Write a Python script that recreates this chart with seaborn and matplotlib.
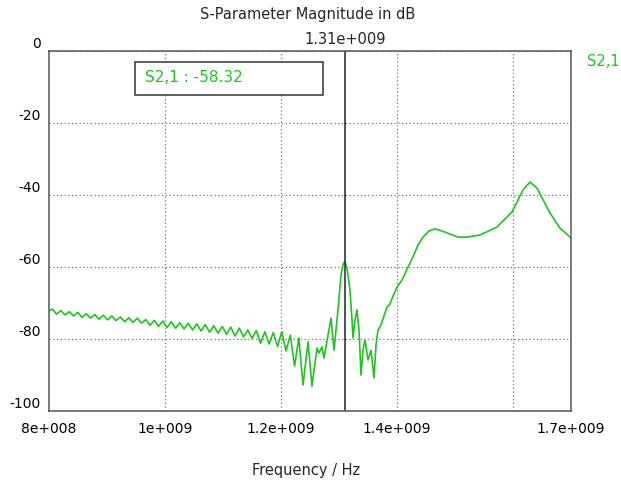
import matplotlib
matplotlib.use("Agg")
import matplotlib.pyplot as plt
import seaborn as sns
import pandas as pd
from matplotlib.patches import Rectangle

# S2,1 magnitude trace (frequency in GHz, magnitude in dB)
freq_ghz = [
    0.8000, 0.8057, 0.8130, 0.8203, 0.8277, 0.8350, 0.8423, 0.8497, 0.8570, 0.8643,
    0.8716, 0.8790, 0.8863, 0.8936, 0.9010, 0.9083, 0.9156, 0.9229, 0.9303, 0.9376,
    0.9449, 0.9522, 0.9596, 0.9669, 0.9742, 0.9816, 0.9889, 0.9962, 1.0035, 1.0109,
    1.0182, 1.0255, 1.0328, 1.0402, 1.0475, 1.0548, 1.0622, 1.0695, 1.0768, 1.0841,
    1.0915, 1.0988, 1.1061, 1.1134, 1.1208, 1.1281, 1.1354, 1.1428, 1.1501, 1.1574,
    1.1647, 1.1721, 1.1794, 1.1867, 1.1940, 1.2014, 1.2087, 1.2160, 1.2234, 1.2307,
    1.2380, 1.2466, 1.2534, 1.2621, 1.2655, 1.2707, 1.2741, 1.2862, 1.2914, 1.2983,
    1.3034, 1.3069, 1.3100, 1.3138, 1.3190, 1.3224, 1.3241, 1.3276, 1.3310, 1.3345,
    1.3379, 1.3414, 1.3448, 1.3500, 1.3552, 1.3603, 1.3638, 1.3672, 1.3724, 1.3828,
    1.3879, 1.3931, 1.4000, 1.4086, 1.4224, 1.4276, 1.4362, 1.4448, 1.4552, 1.4655,
    1.4828, 1.5052, 1.5207, 1.5431, 1.5724, 1.5983, 1.6172, 1.6293, 1.6414, 1.6638,
    1.6810, 1.7000,
]
s21_db = [
    -72.2, -71.7, -73.1, -72.1, -73.3, -72.4, -73.6, -72.6, -74.0, -73.0,
    -74.2, -73.2, -74.5, -73.4, -74.7, -73.6, -74.9, -73.9, -75.2, -74.1,
    -75.4, -74.2, -75.6, -74.6, -76.2, -74.8, -76.5, -75.0, -76.8, -75.2,
    -77.0, -75.5, -77.2, -75.6, -77.5, -75.8, -77.8, -76.0, -78.1, -76.3,
    -78.4, -76.5, -78.7, -76.7, -79.2, -77.0, -79.4, -77.5, -79.8, -77.7,
    -81.2, -78.0, -81.4, -78.2, -82.1, -78.0, -83.3, -78.9, -87.5, -79.7,
    -92.8, -80.8, -93.1, -82.5, -83.9, -82.2, -85.3, -74.2, -83.1, -71.9,
    -62.2, -59.4, -58.32, -60.3, -66.4, -74.7, -79.7, -74.7, -71.9, -77.5,
    -90.0, -83.1, -80.3, -85.8, -83.1, -90.8, -81.7, -77.5, -76.1, -71.1,
    -70.3, -68.1, -65.6, -63.6, -58.9, -57.2, -53.9, -51.7, -50.0, -49.4,
    -50.3, -51.7, -51.7, -51.1, -48.9, -44.7, -38.6, -36.4, -38.1, -45.0,
    -49.2, -51.9,
]

xtick_vals = [0.8e9, 1.0e9, 1.2e9, 1.4e9, 1.7e9]
xgrid_vals = [1.0e9, 1.2e9, 1.4e9, 1.6e9]
ytick_vals = [0, -20, -40, -60, -80, -100]

marker_freq = 1.31e9
marker_val = -58.32
trace_name = "S2,1"

green = "#1fc41f"
edge = "#555555"


def sci3(v):
    # 8e+008 style, three digit exponent like the original tool
    mant, ex = f"{v:g}".split("e")
    sign = ex[0]
    return f"{mant}e{sign}{int(ex[1:]):03d}"


df = pd.DataFrame({"Frequency": [f * 1e9 for f in freq_ghz], "S21": s21_db})

sns.set_style("white")
plt.rcParams["font.family"] = ["DejaVu Sans"]

fig = plt.figure(figsize=(6.21, 4.82), dpi=100)
ax = fig.add_axes([49 / 621, 1 - 411 / 482, 522 / 621, 360 / 482])

sns.lineplot(data=df, x="Frequency", y="S21", color=green, linewidth=1.2,
             estimator=None, sort=False, ax=ax)

ax.set_xlim(0.8e9, 1.7e9)
ax.set_ylim(-100, 0)

ax.xaxis.remove_overlapping_locs = False
ax.set_xticks(xtick_vals)
ax.set_xticklabels([sci3(v) for v in xtick_vals], fontsize=10)
ax.set_xticks(xgrid_vals, minor=True)
ax.set_yticks(ytick_vals)
ax.set_yticklabels([str(v) for v in ytick_vals], fontsize=10)
for lab in ax.get_yticklabels():
    lab.set_verticalalignment("bottom")

ax.tick_params(axis="both", which="major", direction="out", length=4, width=1,
               color=edge, pad=2, labelcolor="black")
ax.tick_params(axis="x", which="major", pad=4)
ax.tick_params(axis="x", which="minor", length=0)

ax.grid(False)
ax.xaxis.grid(True, which="minor", color="#777777", linestyle=(0, (1, 2)), linewidth=0.9)
ax.yaxis.grid(True, which="major", color="#777777", linestyle=(0, (1, 2)), linewidth=0.9)

for sp in ax.spines.values():
    sp.set_color(edge)
    sp.set_linewidth(1.1)

ax.set_xlabel("")
ax.set_ylabel("")

# marker cursor
ax.axvline(marker_freq, color="#333333", linewidth=1.2)
ax.annotate(sci3(marker_freq), xy=(marker_freq, 1), xycoords=("data", "axes fraction"),
            xytext=(0, 3), textcoords="offset points", ha="center", va="bottom",
            fontsize=10.5)

ax.add_patch(Rectangle((0.165, 0.878), 0.36, 0.091, transform=ax.transAxes,
                       fill=True, facecolor="white", edgecolor="#333333",
                       linewidth=1.1, zorder=5))
ax.text(0.184, 0.925, f"{trace_name} : {marker_val:.2f}", transform=ax.transAxes,
        color=green, fontsize=11, ha="left", va="center", zorder=6)

# trace name on the right
ax.text(1.061, 0.972, trace_name, transform=ax.transAxes, color=green,
        fontsize=10.5, ha="center", va="center")

fig.text(308 / 621, 1 - 14 / 482, "S-Parameter Magnitude in dB", ha="center",
         va="center", fontsize=10.5)
fig.text(306 / 621, 1 - 470 / 482, "Frequency / Hz", ha="center", va="center",
         fontsize=10.5)

fig.savefig("out.png", dpi=100)
